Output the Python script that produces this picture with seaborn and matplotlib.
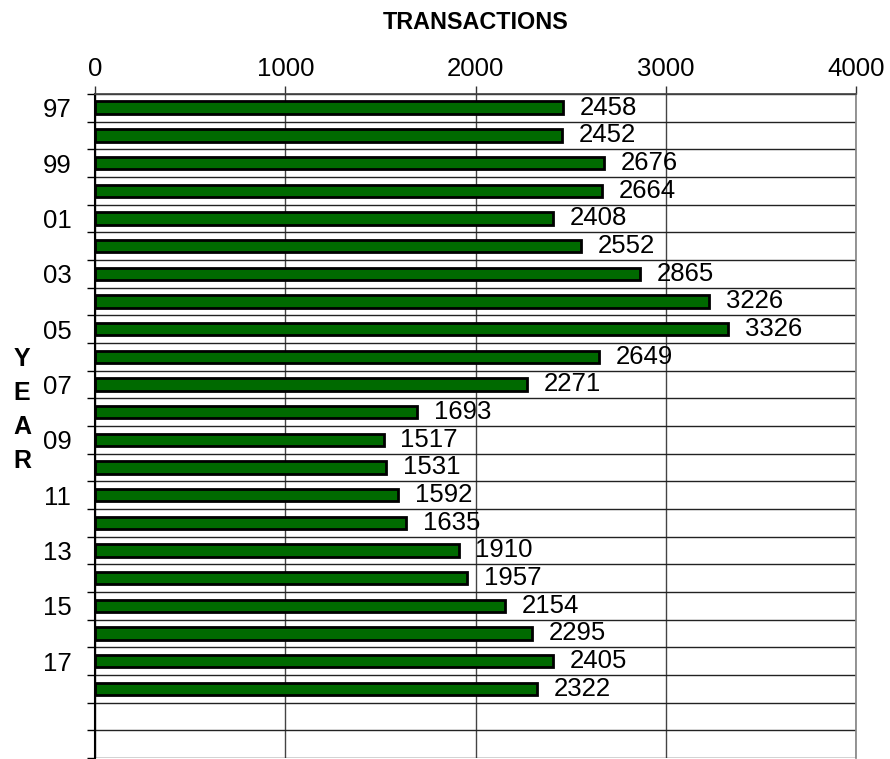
import matplotlib.pyplot as plt
import seaborn as sns
import pandas as pd
import numpy as np

# dades
anys = ['97', '98', '99', '00', '01', '02', '03', '04', '05', '06', '07',
        '08', '09', '10', '11', '12', '13', '14', '15', '16', '17', '18',
        '19', '20']
transaccions = [2458, 2452, 2676, 2664, 2408, 2552, 2865, 3226, 3326, 2649,
                2271, 1693, 1517, 1531, 1592, 1635, 1910, 1957, 2154, 2295,
                2405, 2322, np.nan, np.nan]
etiquetes_any = ['97', '', '99', '', '01', '', '03', '', '05', '', '07', '',
                 '09', '', '11', '', '13', '', '15', '', '17', '', '', '']
ticks_x = [0, 1000, 2000, 3000, 4000]

df = pd.DataFrame({'Any': anys, 'Transaccions': transaccions})

sns.set_theme(style="white")
plt.rcParams['font.family'] = ['Liberation Sans', 'DejaVu Sans']
plt.rcParams['text.color'] = 'black'
plt.rcParams['axes.labelcolor'] = 'black'
plt.rcParams['xtick.labelcolor'] = 'black'
plt.rcParams['ytick.labelcolor'] = 'black'

fig = plt.figure(figsize=(8.9, 7.59), dpi=100)
ax = fig.add_axes([0.1067, 0.0013, 0.8555, 0.875])

sns.barplot(data=df.dropna(), x='Transaccions', y='Any', order=anys,
            orient='h', color='#006a00', edgecolor='black', linewidth=2,
            width=0.45, saturation=1, ax=ax)

ax.set_xlim(0, 4000)
ax.set_ylim(len(anys) - 0.5, -0.5)

# eix x a dalt
ax.xaxis.tick_top()
ax.xaxis.set_label_position('top')
ax.set_xticks(ticks_x)
ax.set_xticklabels([str(t) for t in ticks_x], fontsize=18.5)
ax.tick_params(axis='x', direction='out', length=6, width=1, color='#333333',
               pad=3.5)
ax.set_xlabel('TRANSACTIONS', fontsize=16.8, fontweight='bold', labelpad=20)

# eix y
ax.set_yticks(range(len(anys)))
ax.set_yticklabels(etiquetes_any, fontsize=18.5)
ax.tick_params(axis='y', length=0, pad=17)
ax.set_yticks(np.arange(-0.5, len(anys), 1), minor=True)
ax.tick_params(axis='y', which='minor', direction='out', length=6, width=1,
               color='black', left=True)
ax.set_ylabel('')

# graella
ax.grid(axis='x', which='major', color='#444444', linewidth=1)
ax.grid(axis='y', which='minor', color='#222222', linewidth=1)
ax.set_axisbelow(True)
ax.spines['left'].set_color('black')
ax.spines['left'].set_linewidth(1.5)
ax.spines['top'].set_color('#444444')
ax.spines['right'].set_color('#888888')
ax.spines['bottom'].set_visible(False)

# etiquetes dels valors
for container in ax.containers:
    ax.bar_label(container, labels=[f'{v:.0f}' for v in container.datavalues],
                 padding=12, fontsize=18.5, color='black')

# titol vertical de l'eix y, lletra a lletra
for i, lletra in enumerate('YEAR'):
    fig.text(22 / 890, 1 - (359 + 34 * i) / 759, lletra, fontsize=18,
             fontweight='bold', ha='center', va='center')

plt.savefig('out.png', dpi=100)
